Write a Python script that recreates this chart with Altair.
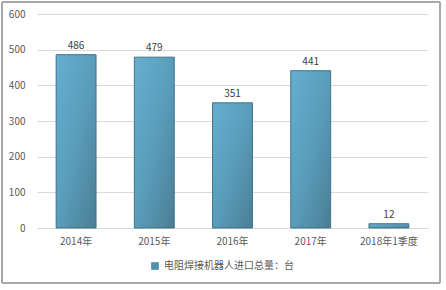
import altair as alt
import pandas as pd

categories = ["2014年", "2015年", "2016年", "2017年", "2018年1季度"]
values = [486, 479, 351, 441, 12]
series = "电阻焊接机器人进口总量：台"
y_ticks = [0, 100, 200, 300, 400, 500, 600]

df = pd.DataFrame({"cat": categories, "val": values, "series": [series] * len(values)})

font = "Noto Sans CJK SC"

grad = alt.Gradient(
    gradient="linear", x1=0, y1=0, x2=1, y2=1,
    stops=[alt.GradientStop(color="#66aed0", offset=0),
           alt.GradientStop(color="#5a9dbb", offset=0.5),
           alt.GradientStop(color="#4a7e93", offset=1)],
)

x = alt.X("cat:N", sort=categories, title=None,
          scale=alt.Scale(paddingInner=0.49, paddingOuter=0.245),
          axis=alt.Axis(labelAngle=0, ticks=False, domain=True, domainColor="#d9d9d9",
                        labelColor="#595959", labelFontSize=10, labelFont=font, labelPadding=8,
                        grid=False))
y = alt.Y("val:Q", title=None,
          scale=alt.Scale(domain=[0, 600]),
          axis=alt.Axis(values=y_ticks, ticks=False, domain=False,
                        grid=True, gridColor="#d9d9d9", gridWidth=1, labelOverlap=False,
                        labelColor="#595959", labelFontSize=10,
                        labelFont=font, labelPadding=12))

bars = alt.Chart(df).mark_bar(fill=grad, stroke="#3f7389", strokeWidth=1).encode(x=x, y=y)

legend_layer = alt.Chart(df).mark_bar(opacity=0).encode(
    x=x, y=y,
    color=alt.Color("series:N", title=None,
                    scale=alt.Scale(range=["#4f93b3"]),
                    legend=alt.Legend(orient="none", legendX=113, legendY=247,
                                      direction="horizontal",
                                      symbolType="square", symbolSize=50, symbolOpacity=1,
                                      symbolStrokeColor="#3f7389", symbolStrokeWidth=0.5,
                                      labelFont=font, labelFontSize=10, labelColor="#595959")),
)

text = alt.Chart(df).mark_text(dy=-9, fontSize=10, font=font, color="#404040").encode(
    x=x, y=y, text="val:Q")

border = alt.Chart(df).mark_rect(fill="transparent", stroke="#a6a6a6", strokeWidth=1).encode(
    x=alt.value(-35), x2=alt.value(403), y=alt.value(-12), y2=alt.value(269))

chart = alt.layer(bars, legend_layer, text, border).properties(
    width=391, height=214,
    autosize=alt.AutoSizeParams(type="none"),
    padding={"left": 37, "top": 14, "right": 18, "bottom": 62},
    background="white",
).configure_view(stroke=None).configure_axisY(
    grid=True, gridColor="#d9d9d9", labelOverlap=False, tickCount=7
)

chart.save("out.html", embed_options={"renderer": "svg", "actions": False})
